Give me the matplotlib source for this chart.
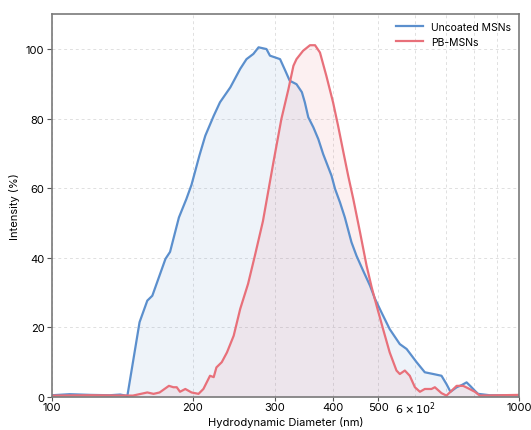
import matplotlib
matplotlib.use("Agg")
import matplotlib.pyplot as plt
from matplotlib.ticker import FixedLocator, FixedFormatter

plt.rcParams['font.family'] = ['Inter', 'DejaVu Sans']

uncoated_d = [100, 109, 121, 133, 140, 145, 154, 160, 164, 175, 179, 187, 194, 199, 207,
              213, 222, 229, 241, 253, 261, 270, 277, 288, 293, 308, 316, 323, 334, 343,
              348, 354, 363, 372, 381, 397, 404, 414, 424, 438, 449, 464, 480, 492, 508, 529,
              556, 575, 604, 629, 656, 683, 700, 714, 736, 754, 773, 788, 805, 818, 867,
              933, 1000]
uncoated_i = [0.5, 0.8, 0.6, 0.5, 0.7, 0.3, 21.5, 27.7, 29.1, 39.7, 41.7, 51.6, 56.9, 61.0, 69.5,
              75.1, 80.8, 84.7, 89.0, 94.3, 97.1, 98.6, 100.5, 100.0, 98.1, 97.1, 93.8, 90.9, 89.9, 87.6,
              84.7, 80.4, 77.5, 74.1, 69.8, 63.6, 59.8, 55.9, 51.6, 44.5, 40.6, 36.3, 32.0, 28.2, 24.3, 19.5,
              15.2, 13.8, 10.0, 7.1, 6.6, 6.1, 3.7, 1.5, 2.8, 3.4, 4.2, 3.1, 1.8, 0.9, 0.5,
              0.5, 0.5]

pb_d = [100, 121, 149, 160, 165, 170, 178, 182, 185, 188, 193, 199, 206, 211, 218,
        222, 225, 231, 237, 245, 253, 263, 272, 283, 298, 310, 321, 329, 334, 345,
        357, 366, 375, 387, 400, 410, 421, 431, 442, 457, 472, 484, 496, 512, 529,
        547, 556, 570, 584, 599, 614, 629, 650, 661, 683, 700, 718, 736, 760, 779,
        805, 825, 911, 1000]
pb_i = [0.4, 0.5, 0.4, 1.3, 0.9, 1.3, 3.2, 2.8, 2.8, 1.5, 2.3, 1.3, 0.9, 2.3, 6.1,
        5.7, 8.5, 10.0, 12.8, 17.6, 25.3, 32.5, 40.6, 50.5, 67.4, 79.9, 88.5, 95.2, 97.1, 99.5,
        101.1, 101.1, 99.0, 92.3, 84.7, 78.0, 70.3, 63.6, 56.9, 47.3, 37.7, 31.5, 26.2, 19.5, 12.8,
        7.6, 6.6, 7.6, 6.1, 2.8, 1.5, 2.3, 2.3, 2.8, 1.1, 0.4, 1.8, 3.2, 3.2, 2.5,
        1.5, 0.4, 0.5, 0.6]

labels = ["Uncoated MSNs", "PB-MSNs"]
blue = "#5b8fcd"
red = "#e8707a"

fig = plt.figure(figsize=(5.31, 4.31), dpi=100)
ax = fig.add_axes([0.098, 0.0766, 0.879, 0.888])

ax.fill_between(uncoated_d, uncoated_i, 0, color=blue, alpha=0.1, lw=0)
ax.fill_between(pb_d, pb_i, 0, color=red, alpha=0.1, lw=0)
ax.plot(uncoated_d, uncoated_i, color=blue, lw=1.6, label=labels[0])
ax.plot(pb_d, pb_i, color=red, lw=1.6, label=labels[1])

ax.set_xscale('log')
ax.set_xlim(100, 1000)
ax.set_ylim(0, 110)

major = [100, 200, 300, 400, 500, 1000]
ax.xaxis.set_major_locator(FixedLocator(major))
ax.xaxis.set_major_formatter(FixedFormatter([str(m) for m in major]))
minor = [600, 700, 800, 900]
ax.xaxis.set_minor_locator(FixedLocator(minor))
ax.xaxis.set_minor_formatter(FixedFormatter([r"$6\times10^{2}$", "", "", ""]))
ax.set_yticks([0, 20, 40, 60, 80, 100])

ax.grid(True, which='both', axis='x', ls=(0, (3, 3)), color='#e0e0e0', lw=0.7)
ax.grid(True, which='major', axis='y', ls=(0, (3, 3)), color='#e0e0e0', lw=0.7)
ax.set_axisbelow(True)

for s in ax.spines.values():
    s.set_color('#7a7a7a')
    s.set_linewidth(1.2)

ax.tick_params(axis='y', which='major', labelsize=8, color='#555555', length=3.5, width=0.8, pad=2)
ax.tick_params(axis='x', which='major', labelsize=8, color='#555555', length=3.0, width=0.8, pad=0.5)
ax.tick_params(axis='x', which='minor', labelsize=8, length=0, pad=1.5)

ax.set_xlabel("Hydrodynamic Diameter (nm)", fontsize=8, labelpad=0)
ax.set_ylabel("Intensity (%)", fontsize=8, labelpad=4)

ax.legend(loc='upper right', frameon=False, fontsize=7.5, handlelength=2.6, borderaxespad=0.3)

fig.savefig("out.png", dpi=100)
